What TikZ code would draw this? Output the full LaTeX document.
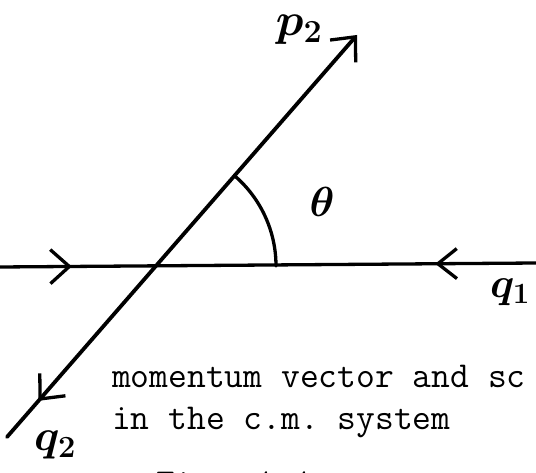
\RequirePackage{fix-cm}
\documentclass[tikz,border=0pt]{standalone}
\usepackage{fontspec}
\usetikzlibrary{arrows.meta,decorations.markings}
\begin{document}
\begin{tikzpicture}[x=1pt,y=-1pt,line cap=round,line join=round,
  ttext/.style={anchor=base west,inner sep=0pt,font=\fontsize{36.5}{36.5}\selectfont\ttfamily},
  hand/.style={inner sep=0pt,font=\fontsize{#1}{#1}\selectfont\boldmath}]
\useasboundingbox (0,0) rectangle (536,473);
\coordinate (L) at (0,267);
\coordinate (R) at (536,263);
\coordinate (O) at (157,266);
\coordinate (P) at (357,35);
\coordinate (Q) at (7,437);
\coordinate (A) at (276,266);
% horizontal line with two arrows
\draw[line width=3.3pt,postaction={decorate},
  decoration={markings,
    mark=at position 0.134 with {\arrow{Straight Barb[length=19pt,width=34pt,line width=3.3pt]}},
    mark=at position 0.812 with {\arrowreversed{Straight Barb[length=19pt,width=30pt,line width=3.3pt]}}}]
  (L) -- (R);
% diagonal line
\draw[line width=3.8pt,-{Straight Barb[length=19pt,width=34pt,line width=3.3pt]},postaction={decorate},
  decoration={markings,
    mark=at position 0.09 with {\arrowreversed{Straight Barb[length=19pt,width=34pt,line width=3.3pt]}}}]
  (Q) -- (P);
% angle arc
\draw[line width=3.3pt] (A) arc[start angle=0,end angle=-49,radius=119];
% labels
\node[hand=46] (lp) at (299,30) {$p_2$};
\node[hand=42] (lt) at (322,202) {$\theta$};
\node[hand=42] (lq1) at (510,292) {$q_1$};
\node[hand=44] (lq2) at (55,445) {$q_2$};
% text
\node[ttext] (t1) at (112,387) {momentum vector and sc};
\node[ttext] (t2) at (112,429) {in the c.m.\ system};
\node[ttext] (t3) at (156,494) {Fig. 1.1};
\end{tikzpicture}
\end{document}
